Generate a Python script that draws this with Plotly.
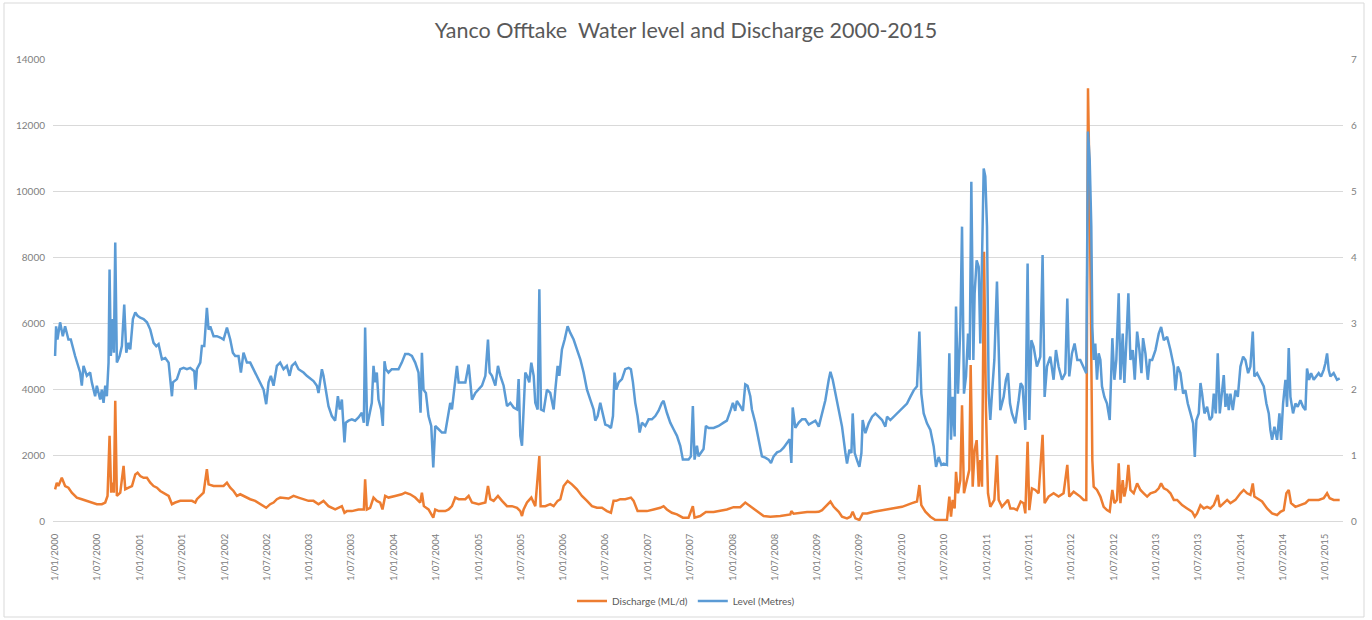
import datetime as dt
import plotly.graph_objects as go

# Yanco Offtake: water level (m) and discharge (ML/d), times as decimal years

level_year = [
    2000.000, 2000.012, 2000.028, 2000.059, 2000.091, 2000.118, 2000.157, 2000.185, 2000.236, 2000.295,
    2000.315, 2000.335, 2000.374, 2000.413, 2000.433, 2000.472, 2000.492, 2000.531, 2000.551, 2000.571,
    2000.591, 2000.610, 2000.630, 2000.642, 2000.657, 2000.681, 2000.693, 2000.709, 2000.728, 2000.760,
    2000.787, 2000.815, 2000.839, 2000.866, 2000.886, 2000.917, 2000.945, 2000.972, 2001.004, 2001.043,
    2001.083, 2001.122, 2001.161, 2001.193, 2001.220, 2001.260, 2001.299, 2001.339, 2001.378, 2001.390,
    2001.437, 2001.476, 2001.516, 2001.555, 2001.594, 2001.642, 2001.657, 2001.673, 2001.713, 2001.732,
    2001.760, 2001.791, 2001.811, 2001.831, 2001.870, 2001.909, 2001.949, 2001.988, 2002.028, 2002.067,
    2002.098, 2002.126, 2002.165, 2002.193, 2002.224, 2002.264, 2002.303, 2002.343, 2002.382, 2002.421,
    2002.461, 2002.492, 2002.520, 2002.547, 2002.579, 2002.618, 2002.657, 2002.697, 2002.736, 2002.768,
    2002.795, 2002.835, 2002.874, 2002.933, 2002.972,
    2003.051, 2003.091, 2003.110, 2003.150, 2003.169, 2003.189, 2003.209, 2003.228, 2003.268, 2003.307,
    2003.339, 2003.362, 2003.386, 2003.417, 2003.433, 2003.465, 2003.504, 2003.543, 2003.583, 2003.622,
    2003.646, 2003.661, 2003.685, 2003.701, 2003.740, 2003.760, 2003.780, 2003.799, 2003.819, 2003.850,
    2003.870, 2003.890, 2003.906, 2003.937, 2003.976, 2004.016, 2004.055, 2004.094, 2004.134, 2004.173,
    2004.213, 2004.252, 2004.291, 2004.315, 2004.331, 2004.350, 2004.378, 2004.409, 2004.441, 2004.465,
    2004.488, 2004.528, 2004.567, 2004.606, 2004.626, 2004.646, 2004.665, 2004.685, 2004.705, 2004.724,
    2004.744, 2004.764, 2004.803, 2004.843, 2004.882, 2004.902, 2004.921, 2004.961, 2005.000, 2005.039,
    2005.079, 2005.110, 2005.130, 2005.157, 2005.197, 2005.228, 2005.256, 2005.295, 2005.335, 2005.374,
    2005.413, 2005.453, 2005.472, 2005.492, 2005.512, 2005.531, 2005.551, 2005.571, 2005.598, 2005.622,
    2005.650, 2005.669, 2005.697, 2005.717, 2005.736, 2005.768, 2005.807, 2005.846, 2005.886, 2005.906,
    2005.933, 2005.953, 2005.984, 2006.016,
    2006.051, 2006.083, 2006.122, 2006.161, 2006.201, 2006.240, 2006.280, 2006.319, 2006.358, 2006.378,
    2006.406, 2006.437, 2006.469, 2006.496, 2006.535, 2006.563, 2006.587, 2006.606, 2006.626, 2006.654,
    2006.693, 2006.732, 2006.772, 2006.799, 2006.823, 2006.850, 2006.878, 2006.902, 2006.929, 2006.969,
    2007.008, 2007.047, 2007.087, 2007.126, 2007.165, 2007.185, 2007.224, 2007.264, 2007.303, 2007.343,
    2007.382, 2007.413, 2007.445, 2007.480, 2007.508, 2007.531, 2007.551, 2007.579, 2007.598, 2007.626,
    2007.657, 2007.685, 2007.717, 2007.776, 2007.835, 2007.894, 2007.933, 2007.980, 2008.004, 2008.031,
    2008.051, 2008.091, 2008.122, 2008.150, 2008.177, 2008.209, 2008.228, 2008.268, 2008.307, 2008.346,
    2008.386, 2008.425, 2008.453, 2008.484, 2008.524, 2008.563, 2008.602, 2008.642, 2008.673, 2008.693,
    2008.709, 2008.740, 2008.780, 2008.819, 2008.858, 2008.898, 2008.937, 2008.976,
    2009.016, 2009.055, 2009.094, 2009.134, 2009.154, 2009.181, 2009.213, 2009.252, 2009.291, 2009.331,
    2009.350, 2009.378, 2009.402, 2009.417, 2009.441, 2009.469, 2009.496, 2009.520, 2009.535, 2009.567,
    2009.606, 2009.646, 2009.685, 2009.724, 2009.764, 2009.803, 2009.823, 2009.862, 2009.902, 2009.941,
    2009.980, 2010.020, 2010.059, 2010.098, 2010.138, 2010.177, 2010.205, 2010.228, 2010.256, 2010.295,
    2010.335, 2010.374, 2010.402, 2010.433, 2010.465, 2010.492, 2010.531, 2010.559, 2010.579, 2010.598,
    2010.622, 2010.638, 2010.661, 2010.689, 2010.709, 2010.732, 2010.756, 2010.780, 2010.799, 2010.819,
    2010.843, 2010.858, 2010.882, 2010.906, 2010.925, 2010.945, 2010.965, 2010.984, 2011.004, 2011.024,
    2011.043, 2011.063, 2011.091, 2011.122, 2011.142, 2011.161, 2011.201, 2011.228, 2011.252, 2011.276,
    2011.299, 2011.339, 2011.378, 2011.402, 2011.425, 2011.457, 2011.484, 2011.504, 2011.528, 2011.555,
    2011.594, 2011.634, 2011.661, 2011.685, 2011.713, 2011.752, 2011.791, 2011.819, 2011.850, 2011.890,
    2011.929, 2011.953, 2011.976, 2012.008, 2012.039, 2012.071,
    2012.106, 2012.146, 2012.177, 2012.197, 2012.217, 2012.236, 2012.248, 2012.264, 2012.283, 2012.303,
    2012.323, 2012.343, 2012.362, 2012.390, 2012.421, 2012.453, 2012.469, 2012.484, 2012.508, 2012.531,
    2012.559, 2012.579, 2012.606, 2012.626, 2012.650, 2012.673, 2012.697, 2012.724, 2012.748, 2012.776,
    2012.803, 2012.827, 2012.846, 2012.874, 2012.902, 2012.925, 2012.953, 2012.992, 2013.031, 2013.059,
    2013.091, 2013.130, 2013.169, 2013.209, 2013.228, 2013.256, 2013.287, 2013.319, 2013.346, 2013.374,
    2013.406, 2013.437, 2013.457, 2013.476, 2013.504, 2013.524, 2013.543, 2013.571, 2013.602, 2013.634,
    2013.661, 2013.681, 2013.705, 2013.728, 2013.752, 2013.780, 2013.799, 2013.819, 2013.839, 2013.858,
    2013.878, 2013.906, 2013.937, 2013.965, 2013.996, 2014.028, 2014.055, 2014.087, 2014.114, 2014.142,
    2014.161, 2014.193, 2014.232, 2014.272, 2014.303, 2014.331, 2014.350, 2014.370, 2014.398, 2014.429,
    2014.457, 2014.476, 2014.500, 2014.528, 2014.547, 2014.567, 2014.587, 2014.618, 2014.646, 2014.673,
    2014.705, 2014.736, 2014.764, 2014.783, 2014.807, 2014.831, 2014.862, 2014.894, 2014.921, 2014.949,
    2014.980, 2015.000, 2015.020, 2015.039, 2015.059, 2015.098, 2015.138, 2015.169,
]

level_m = [
    2.50, 2.95, 2.75, 3.01, 2.80, 2.95, 2.75, 2.75, 2.50, 2.25,
    2.05, 2.35, 2.20, 2.25, 2.10, 1.89, 2.05, 1.84, 1.99, 1.79,
    2.05, 1.89, 2.40, 3.81, 2.50, 3.06, 2.55, 4.22, 2.40, 2.50,
    2.65, 3.28, 2.55, 2.70, 2.60, 3.06, 3.16, 3.11, 3.08, 3.06,
    3.01, 2.90, 2.70, 2.65, 2.68, 2.45, 2.47, 2.40, 1.89, 2.10,
    2.15, 2.30, 2.32, 2.30, 2.32, 2.27, 1.99, 2.30, 2.40, 2.65,
    2.65, 3.23, 2.90, 2.95, 2.80, 2.80, 2.78, 2.75, 2.93, 2.75,
    2.55, 2.50, 2.50, 2.25, 2.55, 2.40, 2.40, 2.30, 2.20, 2.10,
    1.99, 1.77, 2.10, 2.20, 2.05, 2.35, 2.40, 2.30, 2.35, 2.20,
    2.35, 2.40, 2.30, 2.25, 2.20,
    2.12, 2.05, 1.94, 2.30, 2.20, 2.05, 1.89, 1.74, 1.59, 1.52,
    1.89, 1.69, 1.84, 1.19, 1.49, 1.52, 1.54, 1.52, 1.57, 1.64,
    1.49, 2.93, 1.44, 1.54, 1.79, 2.35, 2.10, 2.25, 1.84, 1.69,
    1.44, 2.42, 2.30, 2.25, 2.30, 2.30, 2.30, 2.40, 2.53, 2.53,
    2.50, 2.40, 2.25, 1.64, 2.55, 1.99, 1.94, 1.59, 1.44, 0.81,
    1.44, 1.39, 1.34, 1.34, 1.49, 1.69, 1.79, 1.69, 1.89, 2.10,
    2.35, 2.10, 2.10, 2.10, 2.37, 2.10, 1.84, 1.94, 1.99, 2.05,
    2.20, 2.75, 2.25, 2.20, 2.05, 2.35, 2.20, 2.05, 1.74, 1.79,
    1.72, 1.69, 2.15, 1.29, 1.14, 1.59, 2.25, 2.20, 2.10, 2.40,
    2.20, 1.79, 1.69, 3.51, 1.69, 1.67, 1.99, 1.94, 1.69, 1.99,
    2.35, 2.20, 2.60, 2.75,
    2.95, 2.85, 2.75, 2.60, 2.45, 2.25, 1.99, 1.84, 1.69, 1.52,
    1.59, 1.79, 1.62, 1.46, 1.44, 1.41, 1.59, 2.25, 1.99, 2.10,
    2.15, 2.30, 2.32, 2.30, 2.10, 1.79, 1.59, 1.34, 1.49, 1.44,
    1.54, 1.54, 1.59, 1.67, 1.79, 1.82, 1.64, 1.49, 1.39, 1.29,
    1.14, 0.93, 0.93, 0.93, 0.98, 1.74, 0.93, 1.14, 0.98, 1.04,
    1.09, 1.44, 1.41, 1.41, 1.44, 1.49, 1.52, 1.69, 1.79, 1.67,
    1.82, 1.74, 1.67, 2.07, 2.05, 1.89, 1.69, 1.49, 1.24, 0.98,
    0.96, 0.93, 0.88, 0.98, 1.04, 1.06, 1.11, 1.19, 1.24, 0.88,
    1.72, 1.41, 1.49, 1.54, 1.54, 1.46, 1.49, 1.52,
    1.43, 1.63, 1.83, 2.14, 2.26, 2.14, 1.93, 1.73, 1.43, 1.03,
    0.87, 1.08, 1.03, 1.63, 1.03, 0.92, 0.82, 1.03, 1.53, 1.33,
    1.48, 1.58, 1.63, 1.58, 1.53, 1.43, 1.58, 1.53, 1.58, 1.63,
    1.68, 1.73, 1.78, 1.88, 1.98, 2.04, 2.87, 1.93, 1.63, 1.48,
    1.38, 1.13, 0.82, 0.97, 0.85, 0.87, 0.85, 2.54, 1.23, 1.88,
    1.28, 3.25, 1.93, 2.94, 4.46, 1.93, 2.19, 2.84, 2.44, 5.14,
    2.44, 3.45, 3.95, 3.85, 2.69, 3.95, 5.34, 5.22, 4.46, 1.93,
    1.53, 1.93, 2.44, 3.63, 2.44, 1.68, 1.88, 2.14, 2.24, 1.78,
    1.63, 1.48, 1.83, 2.09, 2.04, 1.38, 3.90, 1.53, 2.74, 2.64,
    2.34, 2.49, 4.03, 1.88, 2.34, 2.49, 2.14, 2.59, 2.34, 2.14,
    2.24, 3.37, 2.19, 2.54, 2.69, 2.44,
    2.44, 2.34, 2.24, 5.90, 5.47, 4.46, 2.94, 2.44, 2.69, 2.14,
    2.54, 2.44, 2.04, 1.88, 1.78, 1.53, 2.19, 2.77, 2.14, 2.44,
    3.45, 2.14, 2.84, 2.09, 2.74, 3.45, 2.44, 2.59, 2.14, 2.87,
    2.59, 2.24, 2.77, 2.54, 2.14, 2.44, 2.44, 2.59, 2.84, 2.94,
    2.74, 2.79, 2.59, 2.34, 1.98, 2.34, 2.24, 1.93, 1.98, 1.78,
    1.63, 1.48, 0.97, 1.53, 1.63, 2.09, 1.93, 1.63, 1.73, 1.53,
    1.58, 1.93, 1.63, 2.54, 1.63, 1.93, 2.21, 1.73, 1.93, 1.68,
    1.93, 1.68, 1.98, 1.88, 2.34, 2.49, 2.44, 2.24, 2.34, 2.87,
    2.19, 2.24, 2.14, 2.04, 1.78, 1.63, 1.38, 1.23, 1.43, 1.23,
    1.63, 1.23, 1.78, 2.14, 1.73, 2.62, 1.88, 1.63, 1.78, 1.73,
    1.83, 1.73, 1.68, 2.31, 2.14, 2.24, 2.14, 2.19, 2.24, 2.19,
    2.29, 2.39, 2.54, 2.29, 2.19, 2.24, 2.14, 2.16,
]

discharge_year = [
    2000.000, 2000.020, 2000.039, 2000.079, 2000.118, 2000.157, 2000.197, 2000.256, 2000.315, 2000.374,
    2000.433, 2000.492, 2000.551, 2000.591, 2000.618, 2000.642, 2000.661, 2000.681, 2000.693, 2000.709,
    2000.728, 2000.768, 2000.807, 2000.827, 2000.866, 2000.906, 2000.945, 2000.972, 2001.004, 2001.043,
    2001.083, 2001.122, 2001.161, 2001.201, 2001.240, 2001.299, 2001.339, 2001.378, 2001.417, 2001.476,
    2001.555, 2001.614, 2001.654, 2001.673, 2001.713, 2001.752, 2001.791, 2001.811, 2001.870, 2001.949,
    2001.988, 2002.028, 2002.067, 2002.106, 2002.146, 2002.185, 2002.224, 2002.264, 2002.303, 2002.362,
    2002.421, 2002.492, 2002.539, 2002.579, 2002.618, 2002.657, 2002.756, 2002.815, 2002.874, 2002.933,
    2002.992,
    2003.051, 2003.110, 2003.169, 2003.228, 2003.307, 2003.386, 2003.417, 2003.445, 2003.504, 2003.583,
    2003.646, 2003.661, 2003.681, 2003.720, 2003.760, 2003.799, 2003.839, 2003.866, 2003.898, 2003.937,
    2004.016, 2004.094, 2004.134, 2004.193, 2004.252, 2004.311, 2004.331, 2004.354, 2004.409, 2004.465,
    2004.488, 2004.528, 2004.606, 2004.646, 2004.685, 2004.724, 2004.764, 2004.843, 2004.882, 2004.921,
    2005.000, 2005.079, 2005.110, 2005.138, 2005.177, 2005.228, 2005.276, 2005.335, 2005.394, 2005.453,
    2005.492, 2005.512, 2005.531, 2005.571, 2005.622, 2005.669, 2005.717, 2005.732, 2005.787, 2005.846,
    2005.886, 2005.933, 2005.965, 2006.004,
    2006.051, 2006.102, 2006.161, 2006.220, 2006.280, 2006.339, 2006.398, 2006.457, 2006.516, 2006.563,
    2006.594, 2006.626, 2006.673, 2006.732, 2006.799, 2006.831, 2006.878, 2006.929, 2006.988, 2007.067,
    2007.146, 2007.185, 2007.224, 2007.283, 2007.343, 2007.413, 2007.480, 2007.531, 2007.551, 2007.618,
    2007.685, 2007.776, 2007.854, 2007.933, 2008.012, 2008.091, 2008.150, 2008.209, 2008.287, 2008.366,
    2008.445, 2008.563, 2008.681, 2008.693, 2008.720, 2008.800, 2008.878, 2008.976,
    2009.016, 2009.055, 2009.114, 2009.154, 2009.193, 2009.252, 2009.291, 2009.350, 2009.390, 2009.417,
    2009.449, 2009.496, 2009.535, 2009.587, 2009.665, 2009.764, 2009.882, 2010.000, 2010.118, 2010.177,
    2010.205, 2010.228, 2010.276, 2010.335, 2010.394, 2010.472, 2010.531, 2010.559, 2010.579, 2010.598,
    2010.622, 2010.638, 2010.661, 2010.689, 2010.709, 2010.732, 2010.768, 2010.795, 2010.811, 2010.835,
    2010.858, 2010.882, 2010.906, 2010.925, 2010.945, 2010.969, 2010.992, 2011.016, 2011.043, 2011.091,
    2011.122, 2011.142, 2011.181, 2011.220, 2011.252, 2011.280, 2011.319, 2011.358, 2011.402, 2011.437,
    2011.457, 2011.484, 2011.504, 2011.535, 2011.575, 2011.614, 2011.661, 2011.685, 2011.732, 2011.791,
    2011.850, 2011.909, 2011.953, 2011.976, 2012.028,
    2012.106, 2012.146, 2012.177, 2012.197, 2012.217, 2012.232, 2012.248, 2012.264, 2012.303, 2012.343,
    2012.382, 2012.421, 2012.453, 2012.469, 2012.484, 2012.508, 2012.539, 2012.559, 2012.579, 2012.606,
    2012.626, 2012.650, 2012.673, 2012.697, 2012.736, 2012.776, 2012.815, 2012.854, 2012.894, 2012.933,
    2012.992, 2013.031, 2013.059, 2013.091, 2013.130, 2013.169, 2013.209, 2013.248, 2013.307, 2013.366,
    2013.425, 2013.457, 2013.484, 2013.524, 2013.563, 2013.602, 2013.642, 2013.681, 2013.728, 2013.752,
    2013.799, 2013.839, 2013.878, 2013.937, 2013.996, 2014.035, 2014.075, 2014.114, 2014.142, 2014.161,
    2014.193, 2014.252, 2014.311, 2014.370, 2014.429, 2014.469, 2014.508, 2014.539, 2014.567, 2014.594,
    2014.646, 2014.705, 2014.764, 2014.803, 2014.862, 2014.921, 2014.980, 2015.020, 2015.051, 2015.098,
    2015.169,
]

discharge_mld = [
    960, 1160, 1060, 1310, 1060, 1010, 860, 710, 660, 610,
    560, 510, 510, 560, 760, 2580, 860, 1160, 860, 3640,
    760, 860, 1670, 960, 1010, 1060, 1410, 1460, 1360, 1310,
    1310, 1160, 1060, 1010, 910, 810, 760, 510, 560, 610,
    610, 610, 560, 660, 760, 860, 1570, 1110, 1060, 1060,
    1060, 1160, 1010, 910, 760, 810, 760, 710, 660, 610,
    510, 400, 510, 560, 660, 710, 680, 760, 710, 660,
    610,
    610, 510, 610, 450, 350, 450, 250, 300, 300, 350,
    350, 1260, 350, 400, 710, 610, 560, 350, 760, 710,
    760, 810, 860, 810, 710, 560, 860, 450, 350, 100,
    350, 300, 300, 350, 450, 710, 660, 660, 760, 560,
    510, 560, 1060, 660, 610, 760, 610, 450, 450, 400,
    300, 150, 350, 560, 710, 450, 1970, 450, 450, 510,
    450, 610, 660, 1060,
    1210, 1110, 960, 760, 610, 450, 400, 400, 300, 250,
    610, 610, 660, 660, 710, 610, 300, 300, 300, 350,
    400, 450, 350, 250, 200, 100, 100, 450, 100, 150,
    270, 270, 300, 350, 420, 420, 560, 450, 300, 150,
    130, 150, 200, 300, 220, 250, 270, 270,
    280, 330, 480, 590, 430, 280, 130, 80, 130, 280,
    80, 30, 230, 230, 280, 330, 380, 430, 540, 590,
    1090, 480, 280, 130, 30, 30, 30, 740, 130, 640,
    380, 1490, 840, 1240, 3510, 840, 1240, 1550, 4730, 1040,
    2150, 2450, 1040, 1850, 1040, 8160, 3360, 840, 430, 640,
    2000, 640, 430, 540, 640, 380, 380, 330, 590, 540,
    230, 2400, 330, 990, 940, 840, 2610, 540, 740, 840,
    740, 840, 1700, 740, 890,
    740, 640, 640, 13110, 9930, 5890, 1850, 1040, 940, 740,
    430, 330, 280, 640, 940, 540, 640, 1750, 540, 1240,
    740, 1040, 1700, 940, 840, 1140, 940, 840, 740, 840,
    890, 990, 1140, 990, 940, 840, 640, 640, 480, 380,
    280, 130, 230, 480, 380, 430, 380, 480, 790, 430,
    540, 640, 540, 640, 840, 940, 840, 790, 1140, 740,
    690, 590, 380, 230, 180, 280, 330, 840, 940, 540,
    430, 480, 540, 640, 640, 640, 690, 840, 690, 640,
    640,
]

tick_labels = [
    "1/01/2000", "1/07/2000", "1/01/2001", "1/07/2001", "1/01/2002", "1/07/2002",
    "1/01/2003", "1/07/2003", "1/01/2004", "1/07/2004", "1/01/2005", "1/07/2005",
    "1/01/2006", "1/07/2006", "1/01/2007", "1/07/2007", "1/01/2008", "1/07/2008",
    "1/01/2009", "1/07/2009", "1/01/2010", "1/07/2010", "1/01/2011", "1/07/2011",
    "1/01/2012", "1/07/2012", "1/01/2013", "1/07/2013", "1/01/2014", "1/07/2014",
    "1/01/2015",
]

if len(level_year) != len(level_m) or len(discharge_year) != len(discharge_mld):
    raise ValueError("series length mismatch")


def to_date(t):
    """Decimal year -> datetime."""
    y = int(t)
    start = dt.datetime(y, 1, 1)
    span = dt.datetime(y + 1, 1, 1) - start
    return start + (t - y) * span


tick_dates = []
for lab in tick_labels:
    d, m, y = lab.split("/")
    tick_dates.append(dt.datetime(int(y), int(m), int(d)))

FONT = "Lato"
GRID = "#d9d9d9"
TICK_FONT = dict(family=FONT, size=10, color="#808080")
XTICK_FONT = dict(family=FONT, size=9.5, color="#808080")

fig = go.Figure()
fig.add_trace(go.Scatter(
    x=[to_date(t) for t in discharge_year], y=discharge_mld,
    name="Discharge (ML/d)", mode="lines",
    line=dict(color="#ED7D31", width=2.5), yaxis="y",
))
fig.add_trace(go.Scatter(
    x=[to_date(t) for t in level_year], y=level_m,
    name="Level (Metres)", mode="lines",
    line=dict(color="#5B9BD5", width=2.5), yaxis="y2",
))

# plot area spans x 53..1343 px, y 59..521 px
L, R, T, B = 53, 29, 59, 99
W, H = 1372, 620
pw, ph = W - L - R, H - T - B


def px_x(x):
    return (x - L) / pw


def px_y(y):
    return (H - B - y) / ph


fig.update_layout(
    width=W, height=H,
    margin=dict(l=L, r=R, t=T, b=B, autoexpand=False),
    paper_bgcolor="white", plot_bgcolor="white",
    font=dict(family=FONT, color="#595959"),
    title=dict(
        text="Yanco Offtake\u00a0 Water level and Discharge 2000-2015",
        x=0.5, xanchor="center", y=1 - 30 / H, yanchor="middle",
        font=dict(family=FONT, size=21.5, color="#595959"),
    ),
    xaxis=dict(
        type="date", automargin=False,
        range=[dt.datetime(1999, 12, 23), dt.datetime(2015, 3, 18)],
        tickmode="array", tickvals=tick_dates, ticktext=tick_labels,
        tickangle=-90, tickfont=XTICK_FONT,
        showgrid=False, zeroline=False,
        showline=True, linecolor=GRID, linewidth=1,
        ticks="", ticklabelstandoff=8,
    ),
    yaxis=dict(
        range=[0, 14000], tickmode="array", automargin=False,
        tickvals=[0, 2000, 4000, 6000, 8000, 10000, 12000, 14000],
        tickformat="d", tickfont=TICK_FONT,
        showgrid=True, gridcolor=GRID, gridwidth=1,
        zeroline=False, showline=False, ticks="", ticklabelstandoff=7,
    ),
    yaxis2=dict(
        range=[0, 7], overlaying="y", side="right", automargin=False,
        tickmode="array", tickvals=[0, 1, 2, 3, 4, 5, 6, 7],
        tickfont=TICK_FONT, showgrid=False, zeroline=False,
        showline=False, ticks="", ticklabelstandoff=7,
    ),
    legend=dict(
        orientation="h", x=px_x(686), xanchor="center",
        y=px_y(601), yanchor="middle",
        font=dict(family=FONT, size=10, color="#595959"),
        bgcolor="rgba(0,0,0,0)",
    ),
    showlegend=True,
    hovermode=False,
    shapes=[dict(
        type="rect", xref="paper", yref="paper",
        x0=px_x(4), x1=px_x(1364), y0=px_y(617), y1=px_y(3),
        line=dict(color=GRID, width=1), fillcolor="rgba(0,0,0,0)", layer="below",
    )],
)

fig.write_html("out.html")
